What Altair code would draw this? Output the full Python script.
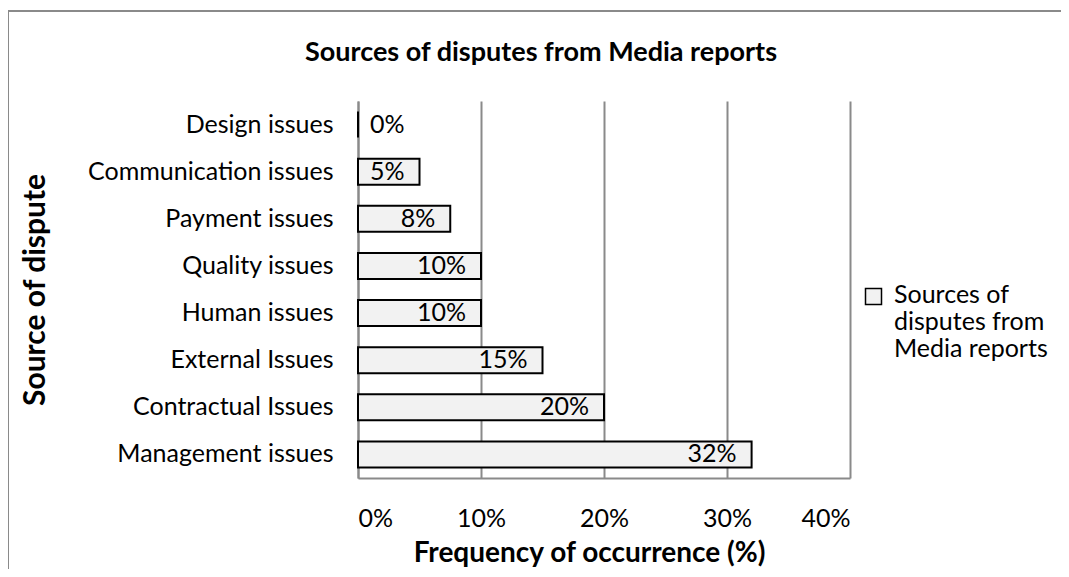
import altair as alt
import pandas as pd

categories = ["Design issues", "Communication issues", "Payment issues", "Quality issues ",
              "Human issues ", "External Issues", "Contractual Issues", "Management issues"]
values = [0, 5, 7.5, 10, 10, 15, 20, 32]
series_name = "Sources of disputes from Media reports"
x_ticks = [0, 10, 20, 30, 40]

df = pd.DataFrame({"category": categories, "value": values, "series": [series_name] * len(categories)})

FONT = "Lato"
GRAY = "#8a8a8a"
FS = 25
W, H = 492, 377
PL, PT = 350, 93

y_enc = alt.Y("category:N", sort=categories,
              scale=alt.Scale(paddingInner=0.45, paddingOuter=0.225),
              axis=alt.Axis(title="Source of dispute", titleFont=FONT, titleFontSize=30,
                            titleFontWeight="bold", titleColor="black", titleAngle=270,
                            titleX=-323, titleY=H / 2, titleAlign="center", titleBaseline="middle",
                            labelFont=FONT, labelFontSize=FS, labelColor="black", labelPadding=25,
                            ticks=False, domainColor=GRAY, domainWidth=2, grid=False,
                            labelLimit=400))

x_scale = alt.Scale(domain=[0, 40], nice=False)

bars = alt.Chart(df).mark_bar(fill="#f2f2f2", stroke="black", strokeWidth=2).encode(
    x=alt.X("value:Q", scale=x_scale,
            axis=alt.Axis(title="Frequency of occurrence (%)", values=x_ticks,
                          labelExpr="datum.value + '%'", labelFont=FONT, labelFontSize=FS,
                          labelColor="black", labelPadding=28, ticks=False,
                          grid=True, gridColor=GRAY, gridWidth=2, domainColor=GRAY, domainWidth=2,
                          titleFont=FONT, titleFontSize=28, titleFontWeight="bold", titleColor="black",
                          titleX=231, titleY=75, titleAlign="center", titleBaseline="middle")),
    y=y_enc,
    color=alt.Color("series:N", scale=alt.Scale(range=["#f2f2f2"]),
                    legend=alt.Legend(title=None, orient="none", legendX=503, legendY=189.5,
                                      symbolType="M-1,-1.81H1V0.19H-1Z", symbolSize=256,
                                      symbolStrokeColor="black",
                                      symbolStrokeWidth=1.5, symbolFillColor="#f2f2f2",
                                      labelFont=FONT, labelFontSize=FS, labelColor="black",
                                      labelOffset=8, labelBaseline="alphabetic",
                                      labelExpr="['Sources of', 'disputes from', 'Media reports']",
                                      labelLimit=300)),
)

labels = alt.Chart(df).transform_calculate(
    pos="max(datum.value, 5)",
    txt="format(datum.value, '.0f') + '%'"
).mark_text(align="right", baseline="middle", dx=-15, font=FONT, fontSize=FS, color="black").encode(
    x=alt.X("pos:Q", scale=x_scale),
    y=alt.Y("category:N", sort=categories),
    text="txt:N",
)

border_v = alt.Chart(df).mark_rule(color=GRAY, strokeWidth=1.5).encode(
    x=alt.value(-350), y=alt.value(-90), y2=alt.value(H + 120))
border_h = alt.Chart(df).mark_rule(color=GRAY, strokeWidth=1.5).encode(
    x=alt.value(-350), x2=alt.value(W + 240), y=alt.value(-90))

chart = alt.layer(border_v, border_h, bars, labels).properties(
    width=W, height=H,
    title=alt.TitleParams(series_name, font=FONT, fontSize=27, fontWeight="bold", color="black",
                          anchor="middle", frame="group", dx=-63, offset=-78,
                          baseline="alphabetic"),
    autosize=alt.AutoSizeParams(type="none"),
    padding={"left": PL, "top": PT, "right": 211, "bottom": 91},
).configure_view(stroke=None)

chart.save("out.html", embed_options={"renderer": "svg", "actions": False})
